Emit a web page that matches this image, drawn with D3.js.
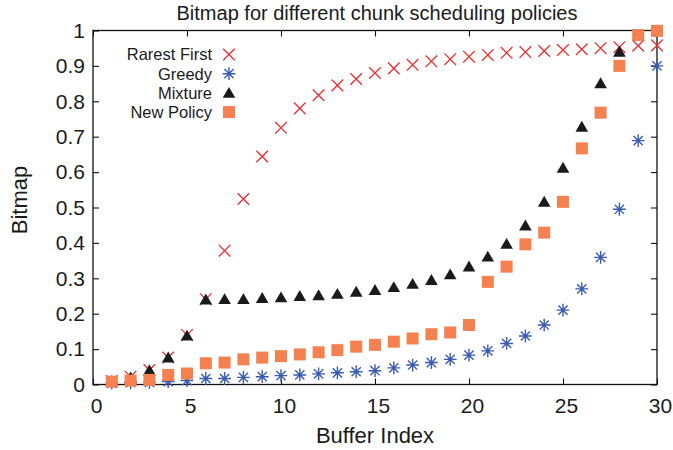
<!DOCTYPE html>
<html>
<head>
<meta charset="utf-8">
<script src="https://cdn.jsdelivr.net/npm/d3@7"></script>
<style>
  html, body { margin: 0; padding: 0; background: #fff; }
  svg { display: block; font-family: "Liberation Sans", Arial, Helvetica, sans-serif; }
</style>
</head>
<body>
<svg id="chart" width="673" height="450"></svg>
<script>
// Buffer indices 1..30
const bufferIndex = d3.range(1, 31);

// Bitmap value per buffer index for each scheduling policy
const rarestFirst = [0.010, 0.022, 0.041, 0.076, 0.140, 0.241, 0.378, 0.524, 0.644, 0.725,
                     0.780, 0.817, 0.845, 0.863, 0.880, 0.893, 0.903, 0.913, 0.919, 0.926,
                     0.931, 0.937, 0.939, 0.942, 0.945, 0.947, 0.950, 0.953, 0.957, 0.958];
const greedy      = [0.004, 0.005, 0.006, 0.008, 0.011, 0.017, 0.017, 0.020, 0.022, 0.025,
                     0.027, 0.030, 0.033, 0.036, 0.039, 0.047, 0.055, 0.062, 0.071, 0.083,
                     0.095, 0.116, 0.137, 0.168, 0.210, 0.270, 0.359, 0.495, 0.689, 0.900];
const mixture     = [0.010, 0.020, 0.040, 0.076, 0.138, 0.240, 0.241, 0.241, 0.244, 0.246,
                     0.250, 0.252, 0.256, 0.262, 0.267, 0.275, 0.284, 0.295, 0.311, 0.333,
                     0.361, 0.397, 0.449, 0.516, 0.612, 0.728, 0.851, 0.940, 0.985, 1.000];
const newPolicy   = [0.008, 0.011, 0.013, 0.027, 0.031, 0.060, 0.062, 0.071, 0.076, 0.080,
                     0.085, 0.091, 0.097, 0.107, 0.112, 0.121, 0.130, 0.142, 0.147, 0.168,
                     0.290, 0.333, 0.396, 0.429, 0.516, 0.667, 0.768, 0.900, 0.987, 0.999];

const xTicks = [0, 5, 10, 15, 20, 25, 30];
const yTicks = [0, 0.1, 0.2, 0.3, 0.4, 0.5, 0.6, 0.7, 0.8, 0.9, 1];

const series = [
  { name: "Rarest First", values: rarestFirst, color: "#ee2b2f", shape: "cross" },
  { name: "Greedy",       values: greedy,      color: "#3b5bb0", shape: "star" },
  { name: "Mixture",      values: mixture,     color: "#1a1a1a", shape: "triangle" },
  { name: "New Policy",   values: newPolicy,   color: "#f4814f", shape: "square" }
];

const svg = d3.select("#chart");
const margin = { left: 93, right: 16, top: 30.5, bottom: 65.5 };
const W = 673, H = 450;

const x = d3.scaleLinear().domain([0, 30]).range([margin.left, W - margin.right]);
const y = d3.scaleLinear().domain([0, 1]).range([H - margin.bottom, margin.top]);

const tickLen = 6;
const axisColor = "#111";

// Axes: ticks point inward, mirrored on the opposite sides
function styleAxis(g) {
  g.select(".domain").remove();
  g.selectAll(".tick line").attr("stroke", axisColor).attr("stroke-width", 1.1);
  g.selectAll(".tick text").attr("fill", "#1a1a1a").style("font-size", "21px");
}

svg.append("g")
  .attr("transform", `translate(0,${y(0)})`)
  .call(d3.axisBottom(x).tickValues(xTicks).tickFormat(d3.format("d"))
        .tickSizeInner(-tickLen).tickSizeOuter(0).tickPadding(13.5))
  .call(styleAxis)
  .call(g => g.selectAll(".tick text").attr("dx", 3));

svg.append("g")
  .attr("transform", `translate(0,${y(1)})`)
  .call(d3.axisTop(x).tickValues(xTicks).tickFormat("")
        .tickSizeInner(-tickLen).tickSizeOuter(0))
  .call(styleAxis);

svg.append("g")
  .attr("transform", `translate(${x(0)},0)`)
  .call(d3.axisLeft(y).tickValues(yTicks).tickFormat(d => d3.format("")(+d.toFixed(1)))
        .tickSizeInner(-tickLen).tickSizeOuter(0).tickPadding(8))
  .call(styleAxis);

svg.append("g")
  .attr("transform", `translate(${x(30)},0)`)
  .call(d3.axisRight(y).tickValues(yTicks).tickFormat("")
        .tickSizeInner(-tickLen).tickSizeOuter(0))
  .call(styleAxis);

// Plot frame
svg.append("rect")
  .attr("x", x(0)).attr("y", y(1))
  .attr("width", x(30) - x(0)).attr("height", y(0) - y(1))
  .attr("fill", "none").attr("stroke", axisColor).attr("stroke-width", 1.3);

// Marker drawing
function drawMarker(g, shape, color) {
  const s = 5.8;
  if (shape === "cross") {
    g.append("path").attr("d", `M${-s},${-s}L${s},${s}M${-s},${s}L${s},${-s}`)
      .attr("stroke", color).attr("stroke-width", 1.3).attr("fill", "none");
  } else if (shape === "star") {
    const a = 6.4, b = 4.6;
    g.append("path")
      .attr("d", `M${-a},0L${a},0M0,${-a}L0,${a}M${-b},${-b}L${b},${b}M${-b},${b}L${b},${-b}`)
      .attr("stroke", color).attr("stroke-width", 1.4).attr("fill", "none");
  } else if (shape === "triangle") {
    g.append("path").attr("d", `M0,-6L6.3,4.9L-6.3,4.9Z`).attr("fill", color);
  } else if (shape === "square") {
    g.append("rect").attr("x", -6).attr("y", -6).attr("width", 12).attr("height", 12)
      .attr("fill", color);
  }
}

// Data points (drawn in legend order so later series lie on top)
series.forEach(s => {
  const layer = svg.append("g").attr("class", "series");
  bufferIndex.forEach((bi, i) => {
    const g = layer.append("g").attr("transform", `translate(${x(bi)},${y(s.values[i])})`);
    drawMarker(g, s.shape, s.color);
  });
});

// Legend
const legend = svg.append("g");
series.forEach((s, i) => {
  const ly = 54.5 + i * 19.2;
  legend.append("text")
    .attr("x", 212).attr("y", ly).attr("dy", "0.36em")
    .attr("text-anchor", "end").attr("fill", "#1a1a1a")
    .style("font-size", "16.5px").text(s.name);
  const g = legend.append("g").attr("transform", `translate(229,${ly})`);
  drawMarker(g, s.shape, s.color);
});

// Title and axis labels
svg.append("text")
  .attr("x", (x(0) + x(30)) / 2 + 2).attr("y", 20)
  .attr("text-anchor", "middle").attr("fill", "#1a1a1a")
  .style("font-size", "20px")
  .text("Bitmap for different chunk scheduling policies");

svg.append("text")
  .attr("x", (x(0) + x(30)) / 2).attr("y", 443)
  .attr("text-anchor", "middle").attr("fill", "#1a1a1a")
  .style("font-size", "22px")
  .text("Buffer Index");

svg.append("text")
  .attr("transform", `translate(27,200) rotate(-90)`)
  .attr("text-anchor", "middle").attr("fill", "#1a1a1a")
  .style("font-size", "22px")
  .text("Bitmap");
</script>
</body>
</html>
